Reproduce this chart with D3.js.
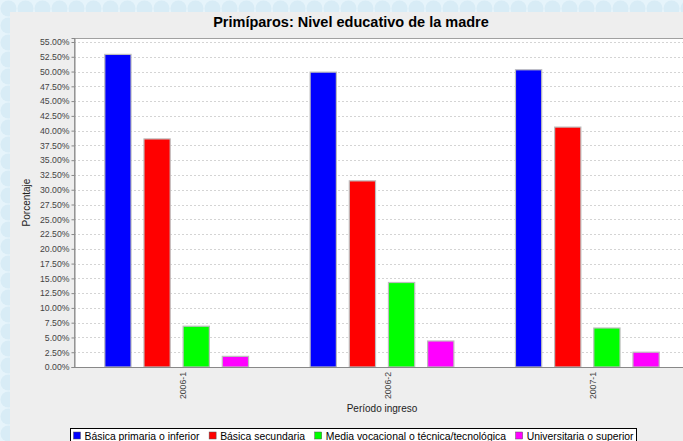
<!DOCTYPE html>
<html>
<head>
<meta charset="utf-8">
<script src="https://cdn.jsdelivr.net/npm/d3@7"></script>
<style>
  html, body { margin: 0; padding: 0; overflow: hidden; }
  svg { display: block; font-family: "Liberation Sans", Arial, sans-serif; }
</style>
</head>
<body>
<div id="chart"></div>
<script>
// data (percent)
const periods = ['2006-1', '2006-2', '2007-1'];
const levels = ['Básica primaria o inferior', 'Básica secundaria', 'Media vocacional o técnica/tecnológica', 'Universitaria o superior'];
const levelColors = ['#0000ff', '#ff0000', '#00ff00', '#ff00ff'];
const primaria = [52.9, 49.9, 50.3];
const secundaria = [38.6, 31.5, 40.6];
const media = [6.9, 14.3, 6.6];
const universitaria = [1.8, 4.4, 2.5];
const yTicks = d3.range(0, 55.001, 2.5);

const series = [primaria, secundaria, media, universitaria];

const width = 683, height = 441;
const plot = {left: 74, top: 38, right: 690, bottom: 367};

const svg = d3.select('#chart').append('svg')
    .attr('width', width)
    .attr('height', height);

// page background with circle pattern
const defs = svg.append('defs');
const pat = defs.append('pattern')
    .attr('id', 'dots')
    .attr('width', 17).attr('height', 17)
    .attr('patternUnits', 'userSpaceOnUse');
pat.append('rect').attr('width', 17).attr('height', 17).attr('fill', '#e6f4fb');
pat.append('circle').attr('cx', 8.5).attr('cy', 8.5).attr('r', 8).attr('fill', '#d8ecf6');

svg.append('rect').attr('width', width).attr('height', height).attr('fill', 'url(#dots)');

// chart panel
svg.append('rect')
    .attr('x', 10).attr('y', 12)
    .attr('width', width).attr('height', height)
    .attr('fill', '#eeeeee');

// title
svg.append('text')
    .attr('x', 351).attr('y', 27)
    .attr('text-anchor', 'middle')
    .style('font-size', '14.5px')
    .style('font-weight', 'bold')
    .text('Primíparos: Nivel educativo de la madre');

const yMax = 55 * (plot.bottom - plot.top) / (plot.bottom - 42);
const y = d3.scaleLinear().domain([0, yMax]).range([plot.bottom, plot.top]);

const x0 = d3.scaleBand()
    .domain(periods)
    .range([plot.left, plot.right])
    .paddingInner(0.3)
    .paddingOuter(0.15);

const x1 = d3.scaleBand()
    .domain(d3.range(levels.length))
    .range([0, x0.bandwidth()])
    .paddingInner(0.33);

// plot background
svg.append('rect')
    .attr('x', plot.left).attr('y', plot.top)
    .attr('width', plot.right - plot.left).attr('height', plot.bottom - plot.top)
    .attr('fill', '#ffffff');

// gridlines
svg.append('g')
    .selectAll('line')
    .data(yTicks)
    .enter().append('line')
    .attr('x1', plot.left).attr('x2', plot.right)
    .attr('y1', d => Math.round(y(d)) + 0.5)
    .attr('y2', d => Math.round(y(d)) + 0.5)
    .attr('stroke', '#d4d4d4')
    .attr('stroke-width', 1)
    .attr('stroke-dasharray', '2,2');

// bars
const groups = svg.append('g')
    .selectAll('g')
    .data(periods)
    .enter().append('g')
    .attr('transform', d => `translate(${x0(d)},0)`);

groups.selectAll('rect')
    .data((d, i) => series.map((s, k) => ({k: k, v: s[i]})))
    .enter().append('rect')
    .attr('x', d => x1(d.k))
    .attr('y', d => y(d.v))
    .attr('width', x1.bandwidth())
    .attr('height', d => plot.bottom - y(d.v))
    .attr('fill', d => levelColors[d.k])
    .attr('stroke', '#bdbdbd')
    .attr('stroke-width', 1.2);

// plot outline
svg.append('rect')
    .attr('x', plot.left + 0.5).attr('y', plot.top + 0.5)
    .attr('width', plot.right - plot.left).attr('height', plot.bottom - plot.top)
    .attr('fill', 'none')
    .attr('stroke', '#a0a0a0')
    .attr('stroke-width', 1);

// y axis
const yAxis = svg.append('g')
    .attr('transform', `translate(${plot.left + 0.5},0)`)
    .call(d3.axisLeft(y)
        .tickValues(yTicks)
        .tickFormat(d => d3.format('.2f')(d) + '%')
        .tickSize(3)
        .tickPadding(2));
yAxis.select('.domain').attr('stroke', '#888');
yAxis.selectAll('.tick line').attr('stroke', '#888');
yAxis.selectAll('.tick text')
    .attr('fill', '#444')
    .style('font-size', '8.7px')
    .style('font-family', '"Liberation Sans", Arial, sans-serif');

// x axis line
svg.append('line')
    .attr('x1', plot.left).attr('x2', plot.right)
    .attr('y1', plot.bottom + 0.5).attr('y2', plot.bottom + 0.5)
    .attr('stroke', '#888');

// x tick labels (rotated)
svg.append('g')
    .selectAll('text')
    .data(periods)
    .enter().append('text')
    .attr('transform', d => `translate(${x0(d) + x0.bandwidth() / 2 + 9},372) rotate(-90)`)
    .attr('text-anchor', 'end')
    .attr('fill', '#444')
    .style('font-size', '8.7px')
    .text(d => d);

// axis titles
svg.append('text')
    .attr('x', (plot.left + plot.right) / 2).attr('y', 412)
    .attr('text-anchor', 'middle')
    .attr('fill', '#222')
    .style('font-size', '10px')
    .text('Período ingreso');

svg.append('text')
    .attr('transform', `translate(30,${(plot.top + plot.bottom) / 2}) rotate(-90)`)
    .attr('text-anchor', 'middle')
    .attr('fill', '#222')
    .style('font-size', '10px')
    .text('Porcentaje');

// legend
const legendW = 566;
const legend = svg.append('g').attr('transform', 'translate(70.5,428.5)');
legend.append('rect')
    .attr('width', legendW).attr('height', 16)
    .attr('fill', '#ffffff')
    .attr('stroke', '#000')
    .attr('stroke-width', 1);

const items = legend.selectAll('g.item')
    .data(levels)
    .enter().append('g')
    .attr('class', 'item');
items.append('rect')
    .attr('x', 0).attr('y', 3.5)
    .attr('width', 7).attr('height', 7)
    .attr('fill', (d, i) => levelColors[i])
    .attr('stroke', '#555')
    .attr('stroke-width', 0.5);
items.append('text')
    .attr('x', 11).attr('y', 11)
    .attr('fill', '#000')
    .style('font-size', '10.4px')
    .text(d => d);

// spread the items over the box
const textW = items.select('text').nodes().map(n => n.getComputedTextLength());
const gap = (legendW - 3 - 3 - d3.sum(textW) - 11 * levels.length) / (levels.length - 1);
let lx = 3;
items.attr('transform', (d, i) => {
    const t = `translate(${lx},0)`;
    lx += 11 + textW[i] + gap;
    return t;
});
</script>
</body>
</html>
